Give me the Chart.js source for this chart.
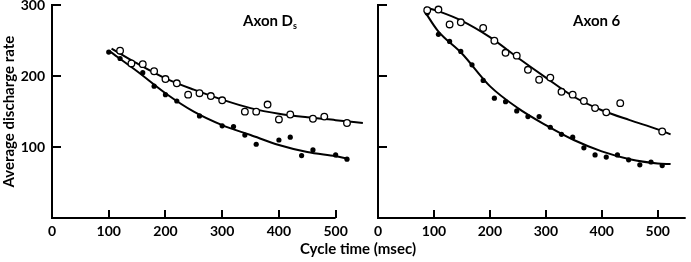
<!DOCTYPE html>
<html>
<head>
<meta charset="utf-8">
<script src="https://cdn.jsdelivr.net/npm/chart.js@4"></script>
<style>
  body { margin: 0; background: #fff; width: 691px; height: 262px; overflow: hidden; position: relative; font-family: Lato, sans-serif; color: #000; }
  #left { position: absolute; left: 0; top: 0; }
  #right { position: absolute; left: 320px; top: 0; }
  .lab { position: absolute; font-weight: bold; font-size: 15px; white-space: nowrap; }
  .lab sub { font-size: 9px; vertical-align: -3px; }
</style>
</head>
<body>
<canvas id="left" width="370" height="262"></canvas>
<canvas id="right" width="371" height="262"></canvas>
<div class="lab" style="left:243px; top:11px;">Axon D<sub>s</sub></div>
<div class="lab" style="left:573px; top:11px;">Axon 6</div>
<div class="lab" style="left:258px; top:239px; width:200px; text-align:center;">Cycle time (msec)</div>
<script>
// Axon Ds (left panel)
let leftOpenX = [120, 140, 160, 180, 200, 220, 240, 260, 280, 300, 340, 360, 380, 400, 420, 460, 480, 520]
let leftOpenY = [236, 218, 217, 207, 196, 190, 174, 176, 172, 166, 150, 150, 160, 139, 146, 140, 143, 134]
let leftFilledX = [100, 120, 160, 180, 200, 220, 260, 300, 320, 340, 360, 400, 420, 440, 460, 500, 520]
let leftFilledY = [234, 225, 205, 186, 174, 165, 144, 130, 129, 117, 104, 110, 114, 88, 96, 89, 83]
// fitted curves
let leftOpenFitX = [105, 150, 200, 250, 300, 350, 400, 450, 500, 548]
let leftOpenFitY = [239, 218, 197, 181, 167, 155, 147, 142, 138, 134]
let leftFilledFitX = [100, 150, 200, 250, 300, 350, 400, 450, 500, 520]
let leftFilledFitY = [236, 207, 176, 150, 131, 117, 103, 93, 87, 84]

// Axon 6 (right panel)
let rightOpenX = [88, 108, 128, 148, 188, 208, 228, 248, 268, 288, 308, 328, 348, 368, 388, 408, 433, 508]
let rightOpenY = [293, 294, 273, 276, 268, 250, 233, 229, 209, 195, 198, 178, 174, 165, 155, 149, 162, 122]
let rightFilledX = [88, 108, 128, 148, 168, 188, 208, 228, 248, 268, 288, 308, 328, 348, 368, 388, 408, 428, 448, 468, 488, 508]
let rightFilledY = [289, 259, 249, 235, 216, 194, 169, 164, 151, 143, 143, 128, 118, 114, 99, 89, 86, 89, 82, 75, 79, 74]
let rightOpenFitX = [85, 110, 150, 200, 250, 300, 350, 400, 450, 500, 523]
let rightOpenFitY = [297, 291, 278, 255, 226, 198, 171, 152, 138, 125, 118]
let rightFilledFitX = [83, 107, 150, 200, 250, 300, 350, 400, 450, 500, 523]
let rightFilledFitY = [292, 264, 232, 186, 155, 131, 110, 94, 83, 77, 76]

let yTicks = [0, 100, 200, 300]
let xTicks = [0, 100, 200, 300, 400, 500]

Chart.defaults.font.family = "Lato"
Chart.defaults.color = "#000"

function zip(xs, ys) {
    return xs.map((x, i) => ({ x: x, y: ys[i] }))
}

// x axis line (may stop short of the scale end) and ticks drawn on the inside
const axesPlugin = {
    id: "axesPlugin",
    afterDraw(chart, args, opts) {
        const { ctx, chartArea, scales } = chart
        ctx.save()
        ctx.strokeStyle = "#000"
        ctx.lineWidth = 2
        ctx.beginPath()
        ctx.moveTo(chartArea.left - 1, chartArea.bottom)
        ctx.lineTo(scales.x.getPixelForValue(opts.axisEnd), chartArea.bottom)
        ctx.stroke()
        yTicks.forEach(v => {
            if (v === 0) return
            let py = Math.round(scales.y.getPixelForValue(v))
            ctx.beginPath()
            ctx.moveTo(chartArea.left, py)
            ctx.lineTo(chartArea.left + 9, py)
            ctx.stroke()
        })
        xTicks.forEach(v => {
            if (v === 0) return
            let px = Math.round(scales.x.getPixelForValue(v))
            ctx.beginPath()
            ctx.moveTo(px, chartArea.bottom)
            ctx.lineTo(px, chartArea.bottom - 8)
            ctx.stroke()
        })
        ctx.restore()
    }
}

function panel(id, d, axisEnd, yWidth, padRight, showY) {
    const tickFont = { family: "Lato", size: 14, weight: "bold" }
    return new Chart(id, {
        type: "scatter",
        data: {
            datasets: [
                { data: zip(d.openX, d.openY), pointRadius: 3.3, borderWidth: 1.3, borderColor: "#000", backgroundColor: "#fff", clip: false },
                { data: zip(d.filledX, d.filledY), pointRadius: 2.6, borderWidth: 0, backgroundColor: "#000", clip: false },
                { data: zip(d.openFitX, d.openFitY), showLine: true, pointRadius: 0, borderWidth: 2, borderColor: "#000", cubicInterpolationMode: "monotone", clip: false },
                { data: zip(d.filledFitX, d.filledFitY), showLine: true, pointRadius: 0, borderWidth: 2, borderColor: "#000", cubicInterpolationMode: "monotone", clip: false },
            ]
        },
        options: {
            responsive: false,
            animation: false,
            layout: { padding: { top: 5, right: padRight, left: 0, bottom: 0 } },
            plugins: { legend: { display: false }, tooltip: { enabled: false }, axesPlugin: { axisEnd: axisEnd } },
            scales: {
                x: {
                    type: "linear", min: 0, max: 550,
                    afterBuildTicks: s => { s.ticks = xTicks.map(v => ({ value: v })) },
                    ticks: { font: tickFont, padding: 5, color: "#000" },
                    grid: { drawOnChartArea: false, drawTicks: false },
                    border: { display: false },
                    afterFit: s => { s.height = 44; s.paddingLeft = 0; s.paddingRight = 0 }
                },
                y: {
                    type: "linear", min: 0, max: 300,
                    afterBuildTicks: s => { s.ticks = yTicks.map(v => ({ value: v })) },
                    ticks: { display: showY, font: tickFont, padding: 7, color: "#000", callback: v => v === 0 ? "" : v },
                    grid: { drawOnChartArea: false, drawTicks: false },
                    border: { color: "#000", width: 2 },
                    title: { display: showY, text: "Average discharge rate", font: { family: "Lato", size: 15, weight: "bold" }, padding: 0, color: "#000" },
                    afterFit: s => { s.width = yWidth; s.paddingTop = 0; s.paddingBottom = 0 }
                }
            }
        },
        plugins: [axesPlugin]
    })
}

panel("left", {
    openX: leftOpenX, openY: leftOpenY, filledX: leftFilledX, filledY: leftFilledY,
    openFitX: leftOpenFitX, openFitY: leftOpenFitY, filledFitX: leftFilledFitX, filledFitY: leftFilledFitY
}, 500, 52, 6, true)

panel("right", {
    openX: rightOpenX, openY: rightOpenY, filledX: rightFilledX, filledY: rightFilledY,
    openFitX: rightOpenFitX, openFitY: rightOpenFitY, filledFitX: rightFilledFitX, filledFitY: rightFilledFitY
}, 550, 58, 1, false)
</script>
</body>
</html>
